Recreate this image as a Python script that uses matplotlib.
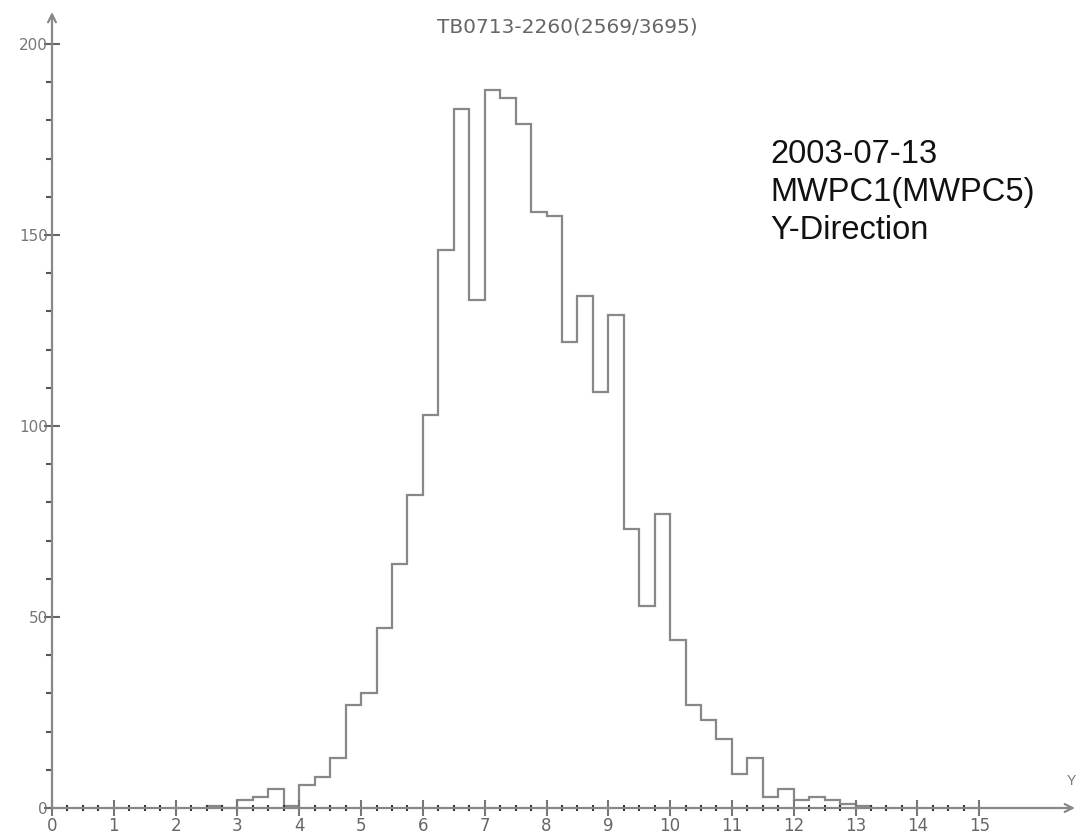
import numpy as np
import matplotlib
matplotlib.use("Agg")
import matplotlib.pyplot as plt
from matplotlib.ticker import MultipleLocator, FixedLocator

# ---- data ----
title = "TB0713-2260(2569/3695)"
info_lines = ["2003-07-13", "MWPC1(MWPC5)", "Y-Direction"]
bin_start = 2.5
bin_width = 0.25
counts = [0.5, 0, 2, 3, 5, 0.5, 6, 8, 13, 27, 30, 47, 64, 82, 103, 146,
          183, 133, 188, 186, 179, 156, 155, 122, 134, 109, 129, 73, 53,
          77, 44, 27, 23, 18, 9, 13, 3, 5, 2, 3, 2, 1, 0.5]
x_ticks = list(range(0, 16))
x_tick_labels = [str(v) for v in x_ticks]
y_ticks = [0, 50, 100, 150, 200]
y_tick_labels = [str(v) for v in y_ticks]

edges = bin_start + bin_width * np.arange(len(counts) + 1)

W, H = 1083, 834
fig = plt.figure(figsize=(W / 100, H / 100), dpi=100)
fig.patch.set_facecolor("white")
ax = fig.add_axes([52 / W, 26 / H, (1075 - 52) / W, (808 - 12) / H])
ax.set_xlim(0, 16.55)
ax.set_ylim(0, 208.4)
ax.patch.set_alpha(0)

line_col = "#888888"
ax.stairs(counts, edges, baseline=0, color=line_col, lw=1.6, clip_on=False)

for s in ax.spines.values():
    s.set_visible(False)

arrow_kw = dict(arrowstyle="->", color=line_col, lw=1.6, shrinkA=0, shrinkB=0,
                mutation_scale=14)
ax.annotate("", xy=(1, 0), xytext=(0, 0), xycoords="axes fraction",
            textcoords="axes fraction", arrowprops=arrow_kw)
ax.annotate("", xy=(0, 1), xytext=(0, 0), xycoords="axes fraction",
            textcoords="axes fraction", arrowprops=arrow_kw)

# x ticks
ax.xaxis.set_major_locator(FixedLocator(x_ticks))
ax.set_xticklabels(x_tick_labels)
ax.xaxis.set_minor_locator(FixedLocator(list(np.arange(0, 15.001, 0.25))))
ax.tick_params(axis="x", which="major", direction="inout", length=11, width=1.5,
               color="#777777", labelsize=12, labelcolor="#666666", pad=1)
ax.tick_params(axis="x", which="minor", direction="inout", length=4, width=1.5,
               color="#333333")

# y ticks
ax.yaxis.set_major_locator(FixedLocator(y_ticks))
ax.set_yticklabels(y_tick_labels)
ax.yaxis.set_minor_locator(MultipleLocator(10))
ax.tick_params(axis="y", which="major", direction="inout", length=12, width=1.5,
               color="#666666", labelsize=11, labelcolor="#777777", pad=-3)
ax.tick_params(axis="y", which="minor", direction="out", length=4, width=1.5,
               color="#555555")

fig.text(567 / W, 1 - 27 / H, title, ha="center", va="center",
         fontsize=14.5, color="#666666", family="DejaVu Sans")

baselines = [163, 201, 239]
for txt, b in zip(info_lines, baselines):
    fig.text(770 / W, 1 - b / H, txt, ha="left", va="baseline",
             fontsize=23.5, color="#111111", family="Liberation Sans")

fig.text(1071 / W, 1 - 781 / H, "Y", ha="center", va="center",
         fontsize=10, color="#777777", family="Liberation Sans")

fig.savefig("out.png", dpi=100, facecolor="white")
